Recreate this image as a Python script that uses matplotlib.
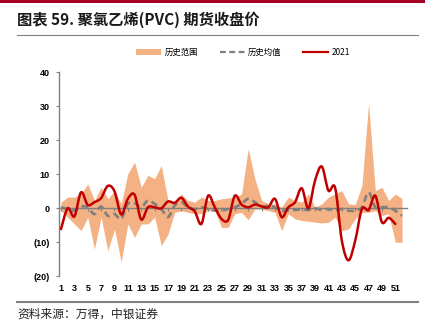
import matplotlib
matplotlib.use("Agg")
import matplotlib.pyplot as plt
from matplotlib.path import Path
from matplotlib.patches import PathPatch, Patch, Rectangle
from matplotlib.lines import Line2D
import numpy as np

# Weekly PVC futures close: historical range, historical mean and 2021
weeks = list(range(1, 53))
hist_max = [1.8, 3.3, 3.3, 4.2, 7.2, 2.3, 6.2, 2.8, 5.2, 1.3, 10.2, 13.6, 6.2, 9.7, 8.7, 12.6,
            2.3, 1.8, 4.2, 2.3, 1.8, 3.3, 2.3, 2.3, 2.8, 3.0, 3.3, 4.2, 17.5, 8.7, 2.3, 1.3,
            1.3, 0.3, 3.3, 2.3, 1.8, 4.2, 0.3, 1.3, 3.3, 4.2, 5.2, 1.3, 1.1, 6.7, 30.8, 5.2,
            6.2, 2.3, 4.2, 2.8]
hist_min = [-0.7, -2.6, -4.6, -6.6, -2.6, -12.0, -2.6, -12.5, -6.1, -15.8, -4.6, -8.6, -4.6,
            -4.6, -2.6, -11.0, -7.6, -1.2, -0.7, -1.2, -1.6, -1.6, -0.7, -0.7, -5.6, -5.6,
            -1.6, -1.2, -3.4, -0.2, -0.2, -0.7, -1.2, -6.6, -1.6, -3.1, -3.6, -3.8, -4.1,
            -4.3, -4.1, -2.6, -6.6, -6.1, -3.1, -1.2, -1.2, -0.7, -2.1, -1.6, -10.0, -10.0]
hist_mean = [0.3, -0.2, -0.7, 0.5, 0.3, -1.7, 0.5, -2.2, -1.7, -3.1, 1.3, 1.5, 0.3, 2.3, 1.3,
             -0.2, -2.6, 0.8, 1.8, 0.3, -0.2, 0.3, -0.2, -0.7, -0.7, -0.2, 0.3, 1.3, 2.8, 1.8,
             0.3, 0.8, 0.3, -0.7, -0.5, -0.5, -0.3, -0.5, 0.0, -0.5, -0.2, -0.7, -0.2, -0.7,
             -0.7, 0.3, 4.7, 0.3, 0.3, 0.3, -0.7, -2.2]
weeks_2021 = list(range(1, 52))
close_2021 = [-6.1, 0.0, -2.4, 4.7, 1.0, 1.8, 3.0, 6.6, 5.0, -1.8, 2.8, 4.0, -3.3, 0.3, 0.3,
              0.0, 2.0, 1.6, 3.1, 0.5, -0.9, -4.6, 3.7, 0.3, -3.1, -3.4, 3.7, 1.1, 0.3, 1.1,
              0.6, 0.3, 2.8, -2.6, 0.3, 1.8, 5.9, 0.0, 8.2, 12.3, 5.2, 6.0, -9.5, -15.3, -9.5,
              -0.2, -0.5, 3.7, -4.1, -2.8, -4.6]

y_ticks = [40, 30, 20, 10, 0, -10, -20]
y_tick_labels = ["40", "30", "20", "10", "0", "(10)", "(20)"]
x_ticks = list(range(1, 52, 2))

CJK = ["Noto Sans CJK SC", "DejaVu Sans"]
NUM = ["Liberation Sans", "DejaVu Sans"]

BAND = "#F4B183"
RED = "#C00000"
MEAN = "#7F7F7F"
AXIS = "#808080"


def smooth_path(xs, ys):
    """Cubic Bezier path through the points (spreadsheet-style smoothed line)."""
    pts = np.column_stack([xs, ys]).astype(float)
    n = len(pts)
    verts = [pts[0]]
    codes = [Path.MOVETO]
    for i in range(n - 1):
        p0 = pts[i - 1] if i > 0 else pts[i]
        p1 = pts[i]
        p2 = pts[i + 1]
        p3 = pts[i + 2] if i + 2 < n else pts[i + 1]
        c1 = p1 + (p2 - p0) / 6.0
        c2 = p2 - (p3 - p1) / 6.0
        verts += [c1, c2, p2]
        codes += [Path.CURVE4] * 3
    return Path(verts, codes)


fig = plt.figure(figsize=(4.34, 3.25), dpi=100)
ax = fig.add_axes([59 / 434, 1 - 276.3 / 325, (406.7 - 59) / 434, (276.3 - 72.3) / 325])

ax.fill_between(weeks, hist_min, hist_max, color=BAND, lw=0, zorder=1)
ax.add_patch(PathPatch(smooth_path(weeks, hist_mean), fill=False, ec=MEAN, lw=1.9,
                       ls=(0, (2.6, 1.6)), zorder=3))
ax.add_patch(PathPatch(smooth_path(weeks_2021, close_2021), fill=False, ec=RED, lw=1.8,
                       zorder=4, capstyle="round", joinstyle="round"))

ax.set_xlim(0.7, 52.7)
ax.set_ylim(-20, 40)

for s in ["top", "right"]:
    ax.spines[s].set_visible(False)
ax.spines["left"].set_color(AXIS)
ax.spines["left"].set_linewidth(1.0)
ax.spines["bottom"].set_position(("data", 0))
ax.spines["bottom"].set_color(AXIS)
ax.spines["bottom"].set_linewidth(1.0)
ax.spines["bottom"].set_zorder(2)

ax.set_yticks(y_ticks)
ax.set_yticklabels(y_tick_labels, fontfamily=NUM, fontweight="bold", fontsize=6.5)
ax.set_xticks(x_ticks)
ax.set_xticklabels([str(w) for w in x_ticks], fontfamily=NUM, fontweight="bold", fontsize=6.5)
ax.tick_params(axis="y", length=2.5, width=0.8, color=AXIS, pad=4)
ax.tick_params(axis="x", length=2.5, width=0.8, color=AXIS, direction="out", pad=52)

# Header and footer
fig.add_artist(Rectangle((0, 1 - 3 / 325), 425 / 434, 3 / 325, transform=fig.transFigure,
                         color="#A50021", lw=0))
fig.text(17 / 434, 1 - 20 / 325, "图表 59. 聚氯乙烯(PVC) 期货收盘价", fontfamily=CJK,
         fontweight="bold", fontsize=11, va="center", ha="left", color="#1a1a1a")
fig.add_artist(Line2D([17 / 434, 418 / 434], [1 - 35 / 325] * 2, transform=fig.transFigure,
                      color="#7f7f7f", lw=0.8))
fig.add_artist(Line2D([17 / 434, 418 / 434], [1 - 302 / 325] * 2, transform=fig.transFigure,
                      color="#7f7f7f", lw=1.5))
fig.text(17 / 434, 1 - 314 / 325, "资料来源：万得，中银证券", fontfamily=CJK, fontsize=8.5,
         va="center", ha="left", color="#222222", style="italic")

handles = [Patch(color=BAND, lw=0),
           Line2D([], [], color=MEAN, lw=1.6, ls=(0, (2.6, 1.6))),
           Line2D([], [], color=RED, lw=1.6)]
labels = ["历史范围", "历史均值", "2021"]
fig.legend(handles, labels, loc="center", bbox_to_anchor=(243 / 434, 1 - 52.5 / 325), ncol=3,
           frameon=False, prop={"family": CJK, "size": 6}, handlelength=3.0,
           handleheight=0.6, handletextpad=0.4, columnspacing=2.6)

fig.savefig("out.png", dpi=100)
